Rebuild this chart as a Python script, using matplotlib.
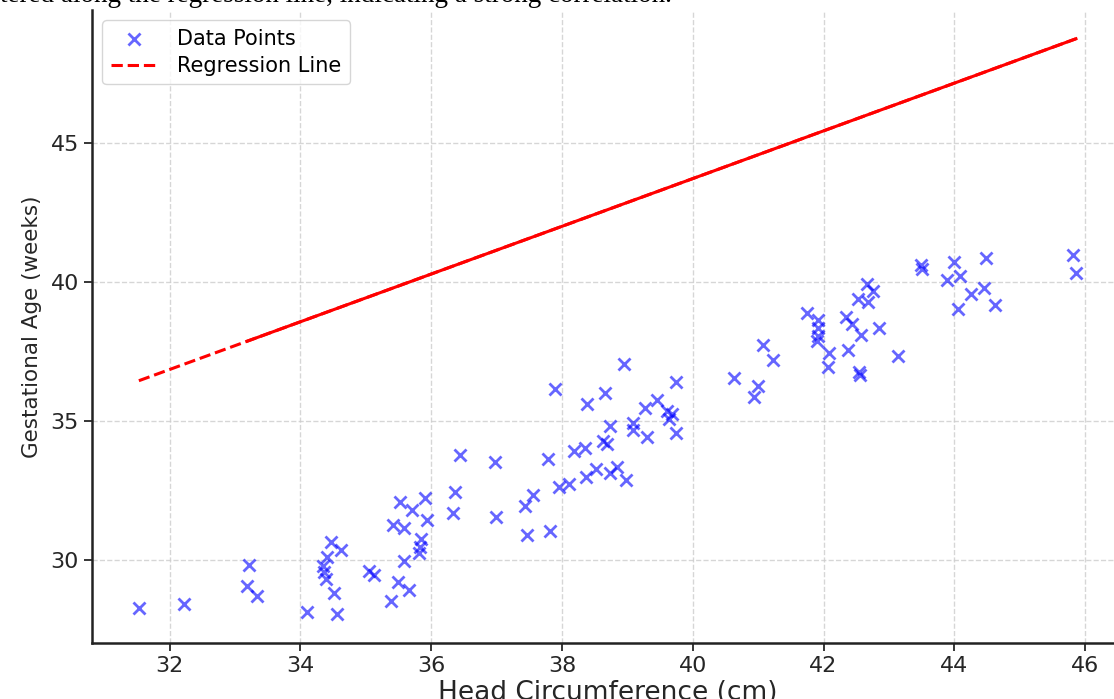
import numpy as np
import matplotlib
matplotlib.use("Agg")
import matplotlib.pyplot as plt

# head circumference (cm) / gestational age (weeks)
head_circ = [31.53, 32.22, 33.21, 33.19, 33.33, 34.10, 34.56, 34.52, 34.47, 34.62,
             34.41, 34.35, 34.36, 34.39, 35.05, 35.13, 35.38, 35.50, 35.66, 35.58,
             35.81, 35.83, 35.85, 35.42, 35.58, 35.53, 35.71, 35.91, 35.93, 36.34,
             36.37, 36.44, 36.97, 36.99, 37.43, 37.55, 37.47, 37.81, 37.78, 37.90,
             37.95, 38.11, 38.18, 38.35, 38.38, 38.66, 38.95, 38.37, 38.52, 38.63,
             38.69, 38.73, 38.74, 38.84, 38.98, 39.08, 39.09, 39.30, 39.27, 39.45,
             39.60, 39.68, 39.63, 39.74, 39.75, 40.63, 41.08, 41.22, 41.00, 40.93,
             41.74, 41.91, 41.92, 41.92, 41.90, 42.09, 42.07, 42.35, 42.43, 42.38,
             42.58, 42.52, 42.66, 42.76, 42.68, 42.55, 42.56, 42.85, 43.14, 43.49,
             43.50, 43.89, 43.99, 44.09, 44.05, 44.26, 44.45, 44.48, 44.62, 45.82,
             45.86]
gest_age = [28.27, 28.40, 29.82, 29.04, 28.67, 28.12, 28.03, 28.80, 30.65, 30.36,
            30.11, 29.78, 29.54, 29.30, 29.58, 29.45, 28.52, 29.18, 28.92, 29.96,
            30.23, 30.47, 30.74, 31.26, 31.13, 32.07, 31.80, 32.21, 31.41, 31.67,
            32.45, 33.77, 33.51, 31.53, 31.93, 32.32, 30.90, 31.02, 33.64, 36.13,
            32.62, 32.72, 33.92, 34.02, 35.61, 36.01, 37.05, 32.97, 33.26, 34.29,
            34.16, 34.82, 33.12, 33.35, 32.85, 34.94, 34.68, 34.43, 35.47, 35.75,
            35.37, 35.25, 35.07, 36.39, 34.56, 36.54, 37.72, 37.18, 36.25, 35.85,
            38.88, 38.62, 38.36, 38.04, 37.87, 37.44, 36.93, 38.74, 38.50, 37.56,
            38.08, 39.40, 39.94, 39.68, 39.28, 36.75, 36.64, 38.36, 37.32, 40.60,
            40.48, 40.06, 40.72, 40.21, 39.02, 39.56, 39.80, 40.88, 39.16, 40.99,
            40.34]

# regression line as drawn in the reference
slope = 0.86
intercept = 9.33

x = np.array(head_circ)
y = np.array(gest_age)
xs = np.sort(x)
fit = slope * xs + intercept

fig = plt.figure(figsize=(11.14, 6.99), dpi=100)
ax = fig.add_axes([0.0826, 0.0801, 0.9253, 0.9056])

ax.scatter(x, y, marker='x', color='blue', alpha=0.6, s=75, linewidths=2.0,
           label='Data Points', zorder=3)
ax.plot(xs, fit, color='red', linestyle='--', linewidth=2.2, label='Regression Line', zorder=4)
ax.plot(xs[2:], fit[2:], color='red', linewidth=2.2, zorder=4)

ax.set_xticks([32, 34, 36, 38, 40, 42, 44, 46])
ax.set_yticks([30, 35, 40, 45])
ax.tick_params(labelsize=16, length=6, width=1.3, colors='#262626')
ax.set_xlabel('Head Circumference (cm)', fontsize=19, color='#262626', labelpad=3)
ax.set_ylabel('Gestational Age (weeks)', fontsize=15.5, color='#262626', labelpad=6)

ax.grid(True, linestyle='--', color='#cccccc', linewidth=1, alpha=0.8)
ax.set_axisbelow(True)
for side in ['top', 'right']:
    ax.spines[side].set_visible(False)
for side in ['left', 'bottom']:
    ax.spines[side].set_linewidth(1.8)
    ax.spines[side].set_color('#222222')

leg = ax.legend(loc='upper left', fontsize=15, frameon=True, borderaxespad=0.5,
                handlelength=2.2, handletextpad=1.0, labelspacing=0.35)
leg.get_frame().set_edgecolor('#cccccc')

# caption fragment cut off at the top of the screenshot
fig.text(0.0, 1 - 2.5 / 699, 'tered along the regression line, indicating a strong correlation.',
         family='Liberation Serif', fontsize=19.5, va='baseline', ha='left', color='black')

fig.savefig('out.png', dpi=100)
